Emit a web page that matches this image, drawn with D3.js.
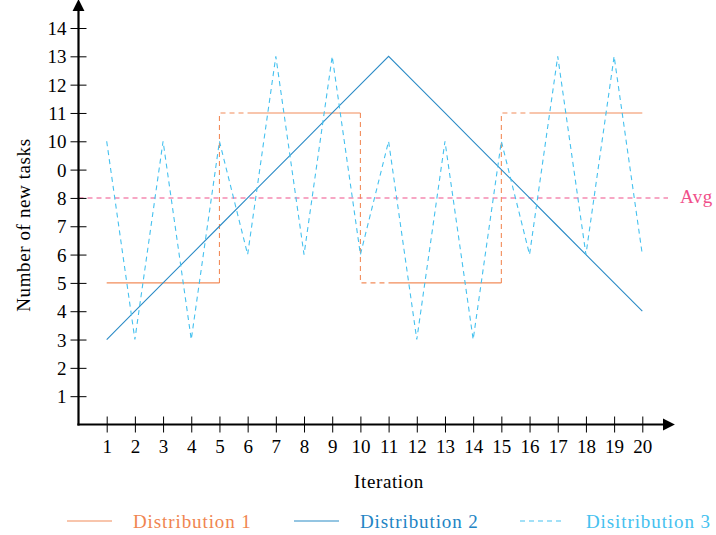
<!DOCTYPE html>
<html><head><meta charset="utf-8">
<script src="https://cdn.jsdelivr.net/npm/d3@7"></script>
<style>body{margin:0;background:#fff}</style>
</head><body><svg id="c" width="716" height="535" font-family="Liberation Serif, serif"></svg>
<script>
const iterations = [1,2,3,4,5,6,7,8,9,10,11,12,13,14,15,16,17,18,19,20];
const dist1 = [5,5,5,5,5,11,11,11,11,11,5,5,5,5,5,11,11,11,11,11];
const dist2 = [3,4,5,6,7,8,9,10,11,12,13,12,11,10,9,8,7,6,5,4];
const dist3 = [10,3,10,3,10,6,13,6,13,6,10,3,10,3,10,6,13,6,13,6];
const avgValue = 8;
const yTicks = [1,2,3,4,5,6,7,8,9,10,11,12,13,14];
const yTickLabels = ["1","2","3","4","5","6","7","8","0","10","11","12","13","14"];
const seriesNames = ["Distribution 1","Distribution 2","Disitribution 3"];
const colors = ["#f28c5a","#2b8bc6","#45c1ef"];
const textColors = ["#f08550","#2284c4","#45c1ef"];
const avgColor = "#f0508a";
const FONT = "Liberation Serif, serif";

const svg = d3.select("#c");
const x = d3.scaleLinear().domain([0,21]).range([78.5, 670.5]);
const y = d3.scaleLinear().domain([0,14]).range([424.5, 28]);

svg.append("defs").append("marker").attr("id","arr").attr("viewBox","0 0 10 10")
  .attr("refX",1).attr("refY",5).attr("markerWidth",5.5).attr("markerHeight",5.5).attr("orient","auto")
  .append("path").attr("d","M0,0 L10,5 L0,10 z").attr("fill","#000");

// Avg line
svg.append("line").attr("x1",x(0)).attr("x2",668).attr("y1",y(avgValue)).attr("y2",y(avgValue))
  .attr("stroke",avgColor).attr("stroke-width",1.1).attr("stroke-dasharray","5,4");
svg.append("text").attr("x",680).attr("y",y(avgValue)+5).attr("fill",avgColor)
  .attr("font-family",FONT).attr("font-size",19).attr("letter-spacing",0.5).text("Avg");

const line = d3.line().x(d=>x(d[0])).y(d=>y(d[1]));
const pts1 = iterations.map((it,i)=>[it,dist1[i]]);
const groups = [];
let cur=[pts1[0]];
for(let i=1;i<pts1.length;i++){
  if(pts1[i][1]===pts1[i-1][1]) cur.push(pts1[i]);
  else {groups.push(cur); cur=[pts1[i]];}
}
groups.push(cur);
groups.forEach(g=>{
  svg.append("path").attr("d",line(g)).attr("fill","none").attr("stroke",colors[0]).attr("stroke-width",1.1);
});
for(let i=1;i<pts1.length;i++){
  if(pts1[i][1]!==pts1[i-1][1]){
    const a=pts1[i-1], b=pts1[i];
    svg.append("path").attr("d",line([a,[a[0],b[1]],b])).attr("fill","none")
      .attr("stroke",colors[0]).attr("stroke-width",1.1).attr("stroke-dasharray","5,4");
  }
}

svg.append("path").attr("d",line(iterations.map((it,i)=>[it,dist2[i]])))
  .attr("fill","none").attr("stroke",colors[1]).attr("stroke-width",1.1);
svg.append("path").attr("d",line(iterations.map((it,i)=>[it,dist3[i]])))
  .attr("fill","none").attr("stroke",colors[2]).attr("stroke-width",1.1).attr("stroke-dasharray","5,4");

// Axes
const xAxis = d3.axisBottom(x).tickValues(iterations).tickSize(0).tickFormat(d3.format("d"));
const gx = svg.append("g").attr("transform",`translate(0,${y(0)})`).call(xAxis);
gx.attr("font-family",FONT);
gx.select(".domain").remove();
gx.selectAll(".tick line").remove();
gx.selectAll(".tick").append("line").attr("y1",-8).attr("y2",8).attr("stroke","#000").attr("stroke-width",1);
gx.selectAll(".tick text").attr("y",28).attr("dy","0").attr("font-size",19).attr("fill","#000").attr("font-family",FONT);

const yAxis = d3.axisLeft(y).tickValues(yTicks).tickSize(0).tickFormat((d,i)=>yTickLabels[i]);
const gy = svg.append("g").attr("transform",`translate(${x(0)},0)`).call(yAxis);
gy.attr("font-family",FONT);
gy.select(".domain").remove();
gy.selectAll(".tick line").remove();
gy.selectAll(".tick").append("line").attr("x1",-8).attr("x2",8).attr("stroke","#000").attr("stroke-width",1);
gy.selectAll(".tick text").attr("x",-12).attr("dy","0.34em").attr("font-size",19).attr("fill","#000").attr("font-family",FONT);

svg.append("line").attr("x1",x(0)).attr("x2",x(0)).attr("y1",y(0)+1).attr("y2",10)
  .attr("stroke","#000").attr("stroke-width",2.2).attr("marker-end","url(#arr)");
svg.append("line").attr("x1",x(0)-1.1).attr("x2",664).attr("y1",y(0)).attr("y2",y(0))
  .attr("stroke","#000").attr("stroke-width",2.2).attr("marker-end","url(#arr)");

svg.append("text").attr("x",389).attr("y",488).attr("text-anchor","middle").attr("font-family",FONT)
  .attr("font-size",19).attr("letter-spacing",0.6).text("Iteration");
svg.append("text").attr("transform","translate(30,225) rotate(-90)").attr("text-anchor","middle").attr("font-family",FONT)
  .attr("font-size",19).attr("letter-spacing",0.6).text("Number of new tasks");

const legX = [67,294,520];
const lg = svg.append("g");
seriesNames.forEach((n,i)=>{
  lg.append("line").attr("x1",legX[i]).attr("x2",legX[i]+45).attr("y1",521).attr("y2",521)
    .attr("stroke",colors[i]).attr("stroke-width",1.1).attr("stroke-dasharray", i===2?"5,4":null);
  lg.append("text").attr("x",legX[i]+66).attr("y",528).attr("font-family",FONT).attr("font-size",19)
    .attr("letter-spacing",0.9).attr("fill",textColors[i]).text(n);
});
</script></body></html>
